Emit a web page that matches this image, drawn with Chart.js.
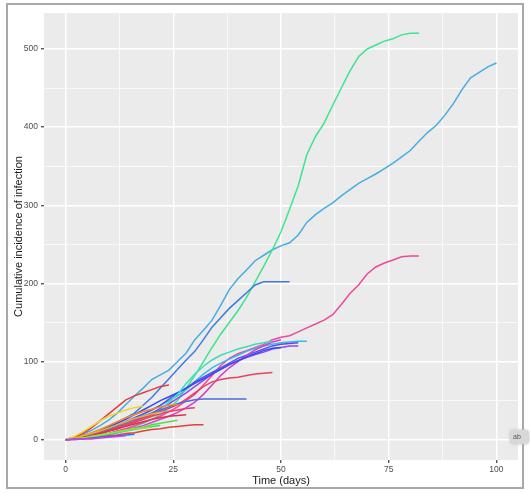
<!DOCTYPE html>
<html><head><meta charset="utf-8">
<script src="https://cdn.jsdelivr.net/npm/chart.js@4"></script>
<style>
html,body{margin:0;padding:0;background:#fff;}
#wrap{position:relative;width:530px;height:493px;overflow:hidden;}
#c{position:absolute;left:0;top:0;}
#frame{position:absolute;left:6px;top:3px;width:514px;height:482px;border:2px solid #a8a8a8;pointer-events:none;}
#ab{position:absolute;left:510px;top:430px;width:16px;height:14px;background:#d8d8d8;border-radius:4px;font:7px 'Liberation Sans',Arial,sans-serif;color:#555;line-height:14px;padding-left:3px;box-shadow:0 0 3px #bbb;}
</style></head><body>
<div id="wrap"><canvas id="c" width="530" height="493" style="width:530px;height:493px"></canvas><div id="frame"></div><div id="ab">ab</div></div>
<script>
// Day grid shared by all series (values every 2 days)
const days = [0,2,4,6,8,10,12,14,16,18,20,22,24,26,28,30,32,34,36,38,40,42,44,46,48,50,52,54,56,58,60,62,64,66,68,70,72,74,76,78,80,82,84,86,88,90,92,94,96,98,100];
const xTicks = [0,25,50,75,100];
const xMinor = [12.5,37.5,62.5,87.5];
const yTicks = [0,100,200,300,400,500];
const yMinor = [50,150,250,350,450];

// Cumulative incidence series (one per simulation run)
const magenta5   = [0,0,1,1,2,3,4,5];
const blue8      = [0,1,1,2,3,4,5,6,7];
const chartreuse = [0,1,2,4,6,8,10,12,14,15,16];
const green18    = [0,1,2,3,5,7,9,11,13,15,17,18];
const yellow43   = [0,4,10,17,24,30,34,38,41,43];
const gold35     = [0,2,5,8,11,15,19,23,27,30,33,35];
const red70      = [0,3,8,15,24,33,42,51,56,60,64,68,70];
const orange45   = [0,2,5,9,13,18,23,28,32,36,39,42,44,45];
const green25    = [0,1,2,4,6,8,10,12,14,16,19,21,23,25];
const red32      = [0,1,3,5,8,11,14,17,20,23,26,28,30,31,32];
const crimson41  = [0,1,3,5,8,11,14,18,22,26,30,33,36,38,40,41];
const red19      = [0,1,2,3,4,5,6,8,9,11,13,14,16,17,18,19,19];
const flatBlue   = [0,2,5,8,11,14,18,22,26,30,34,38,42,46,49,51,52,52,52,52,52,52];
const red86      = [0,2,4,6,9,12,16,20,24,28,32,36,40,45,52,60,68,74,77,79,80,82,84,85,86];
const aqua       = [0,1,3,5,8,11,14,18,22,26,30,38,48,58,72,84,94,102,108,112,116,119,122,124,126];
const blue2      = [0,2,5,8,12,16,21,26,32,38,44,50,55,60,66,72,78,84,90,96,101,106,110,114,117,118];
const magentaMid = [0,1,2,3,5,7,9,12,15,18,22,26,30,35,41,48,58,70,82,92,100,108,115,120,125,128];
const violet     = [0,1,3,5,8,11,15,19,24,29,34,40,46,53,60,68,76,84,90,96,101,105,109,112,116,118,120,120];
const blueViolet = [0,2,4,7,10,14,18,23,28,33,38,44,52,60,66,74,80,86,92,98,104,108,112,116,120,122,123,124];
const sky        = [0,2,4,7,10,14,18,22,27,32,38,44,50,56,64,74,84,92,98,103,108,113,117,120,122,124,125,126,126];
const blue200    = [0,2,5,8,12,17,22,28,34,44,54,66,78,90,102,113,128,144,156,168,178,188,198,202,202,202,202];
const pink       = [0,1,2,4,6,8,11,14,18,22,26,30,36,42,50,58,70,82,95,104,110,114,118,122,128,131,133,138,143,148,153,160,173,187,198,212,221,226,230,234,235,235];
const green520   = [0,1,2,4,6,8,11,14,17,21,26,32,40,50,66,82,100,118,135,150,165,182,202,222,243,266,295,325,365,388,405,428,450,472,490,500,505,510,513,518,520,520];
const lightBlue  = [0,3,7,12,18,25,34,45,56,66,77,83,89,100,111,128,140,153,172,192,206,217,229,236,243,248,252,262,278,288,296,303,312,320,328,334,340,347,354,362,370,382,393,402,415,430,448,463,470,477,482];

const seriesList = [
  [magenta5,'#D43CE0'],[blue8,'#3A6AF0'],[chartreuse,'#9AE03A'],[green18,'#2CE06A'],
  [yellow43,'#F2D22B'],[gold35,'#E8B030'],[red70,'#E83A3A'],[orange45,'#F08A2A'],
  [green25,'#4CE04C'],[red32,'#E0304A'],[crimson41,'#F03A6A'],[red19,'#E33F3F'],
  [flatBlue,'#4C6CE0'],[red86,'#E8425F'],[aqua,'#3BDDB8'],[blue2,'#2F4FF2'],
  [magentaMid,'#D040C8'],[violet,'#9646E6'],[blueViolet,'#5B4DEB'],[sky,'#3CB8E8'],
  [blue200,'#3D7BE0'],[pink,'#EC4A9A'],[green520,'#3DE58C'],[lightBlue,'#45ADE3']
];

const datasets = seriesList.map(([vals,col]) => ({
  data: vals.map((v,i) => ({x: days[i], y: v})),
  borderColor: col, borderWidth: 1.5, pointRadius: 0, fill: false, tension: 0
}));

const FONT = "'Liberation Sans', Arial, sans-serif";
const panelBg = {
  id: 'panelBg',
  beforeDraw(chart) {
    const {ctx, chartArea: a} = chart;
    ctx.save(); ctx.fillStyle = '#ebebeb';
    ctx.fillRect(a.left, a.top, a.right - a.left, a.bottom - a.top);
    ctx.restore();
  }
};
function mkTicks(major, minor) {
  return s => { s.ticks = major.concat(minor).sort((a,b)=>a-b).map(v => ({value: v})); };
}
function isMajor(list, v) { return list.includes(v); }

new Chart(document.getElementById('c'), {
  type: 'line',
  data: { datasets },
  plugins: [panelBg],
  options: {
    responsive: false, animation: false,
    layout: { padding: { left: 8, top: 13, right: 12, bottom: 5 } },
    plugins: { legend: { display: false }, tooltip: { enabled: false } },
    scales: {
      x: {
        type: 'linear', min: -5, max: 105,
        afterBuildTicks: mkTicks(xTicks, xMinor),
        afterFit: s => { s.height = 28; },
        border: { display: false },
        grid: {
          color: '#ffffff',
          lineWidth: c => isMajor(xTicks, c.tick.value) ? 1.4 : 0.7,
          tickColor: c => isMajor(xTicks, c.tick.value) ? '#555' : 'rgba(0,0,0,0)',
          tickLength: 3, drawTicks: true
        },
        ticks: {
          autoSkip: false, maxRotation: 0, padding: 2, color: '#4d4d4d',
          font: { family: FONT, size: 8.5 },
          callback: v => isMajor(xTicks, v) ? String(v) : ''
        },
        title: { display: true, text: 'Time (days)', color: '#1a1a1a',
          font: { family: FONT, size: 11 }, padding: { top: 0, bottom: 0 } }
      },
      y: {
        type: 'linear', min: -26, max: 546,
        afterBuildTicks: mkTicks(yTicks, yMinor),
        afterFit: s => { s.width = 36; },
        border: { display: false },
        grid: {
          color: '#ffffff',
          lineWidth: c => isMajor(yTicks, c.tick.value) ? 1.4 : 0.7,
          tickColor: c => isMajor(yTicks, c.tick.value) ? '#555' : 'rgba(0,0,0,0)',
          tickLength: 3, drawTicks: true
        },
        ticks: {
          autoSkip: false, padding: 3, color: '#4d4d4d',
          font: { family: FONT, size: 8.5 },
          callback: v => isMajor(yTicks, v) ? String(v) : ''
        },
        title: { display: true, text: 'Cumulative incidence of infection', color: '#1a1a1a',
          font: { family: FONT, size: 11 }, padding: { top: 4, bottom: 0 } }
      }
    }
  }
});
</script>
</body></html>
